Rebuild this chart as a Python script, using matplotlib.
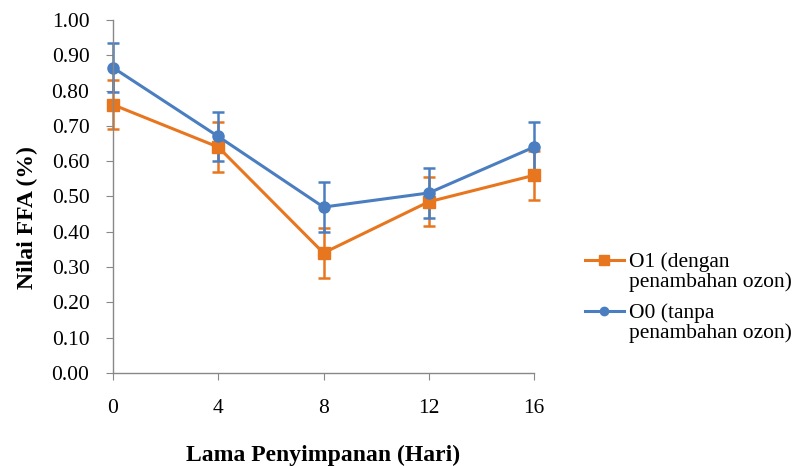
import matplotlib
matplotlib.use("Agg")
import matplotlib.pyplot as plt
from matplotlib.lines import Line2D
from matplotlib.legend_handler import HandlerLine2D

days = ["0", "4", "8", "12", "16"]
o1_values = [0.76, 0.64, 0.34, 0.485, 0.56]
o1_err = [0.07, 0.07, 0.07, 0.07, 0.07]
o0_values = [0.865, 0.67, 0.47, 0.51, 0.64]
o0_err = [0.07, 0.07, 0.07, 0.07, 0.07]
o1_label = "O1 (dengan\npenambahan ozon)"
o0_label = "O0 (tanpa\npenambahan ozon)"
yticks = [0.0, 0.1, 0.2, 0.3, 0.4, 0.5, 0.6, 0.7, 0.8, 0.9, 1.0]

plt.rcParams['font.family'] = ['Liberation Serif', 'DejaVu Serif']


class TopAligned(HandlerLine2D):
    def create_artists(self, legend, orig_handle, xdescent, ydescent, width,
                       height, fontsize, trans):
        shift = 0.55 * fontsize
        return super().create_artists(legend, orig_handle, xdescent,
                                      ydescent - 2 * shift, width, height,
                                      fontsize, trans)


fig = plt.figure(figsize=(7.98, 4.66), dpi=100)
ax = fig.add_axes([0.1416, 0.1996, 0.5276, 0.7575])

orange = "#E8761F"
blue = "#4A7EC0"
x = list(range(len(days)))

for vals, err, col, mk in [(o1_values, o1_err, orange, "s"),
                           (o0_values, o0_err, blue, "o")]:
    cont = ax.errorbar(x, vals, yerr=err, color=col, marker=mk, markersize=8,
                       linewidth=2.2, elinewidth=1.8, capsize=4.5, capthick=1.8)
    for art in cont.get_children():
        art.set_clip_on(False)

ax.set_xlim(0, len(days) - 1)
ax.set_ylim(0, 1.0)
ax.set_xticks(x)
ax.set_xticklabels(days, fontsize=15.5)
ax.set_yticks(yticks)
ax.set_yticklabels([f"{v:.2f}" for v in yticks], fontsize=15.5)
ax.tick_params(axis="x", direction="out", length=5, color="#888888", pad=14)
ax.tick_params(axis="y", direction="out", length=5, color="#888888", pad=12)

for s in ["top", "right"]:
    ax.spines[s].set_visible(False)
for s in ["left", "bottom"]:
    ax.spines[s].set_color("#888888")
    ax.spines[s].set_linewidth(1)

ax.set_xlabel("Lama Penyimpanan (Hari)", fontsize=17, fontweight="bold", labelpad=19)
ax.set_ylabel("Nilai FFA (%)", fontsize=17, fontweight="bold")
ax.yaxis.set_label_coords(-0.178, 0.44)

h1 = Line2D([], [], color=orange, marker="s", markersize=7, linewidth=2.2)
h0 = Line2D([], [], color=blue, marker="o", markersize=6, linewidth=2.2)
leg = fig.legend([h1, h0], [o1_label, o0_label], loc="upper left",
                 bbox_to_anchor=(0.733, 0.459), bbox_transform=fig.transFigure,
                 frameon=False, fontsize=15.5, handlelength=1.8,
                 labelspacing=0.5, handletextpad=0.25, borderpad=0,
                 borderaxespad=0,
                 handler_map={Line2D: TopAligned()})
for t in leg.get_texts():
    t.set_linespacing(1.05)

fig.savefig("out.png", dpi=100)
